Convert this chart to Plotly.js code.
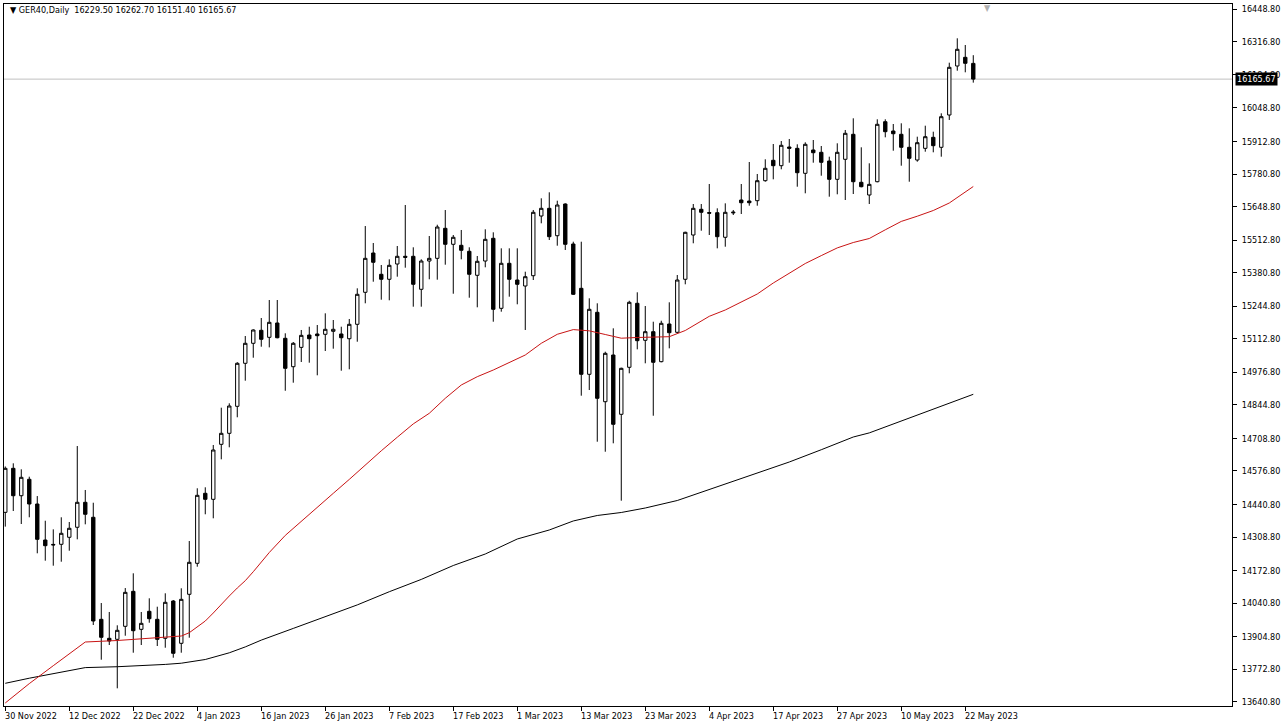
<!DOCTYPE html>
<html>
<head>
<meta charset="utf-8">
<script src="https://cdn.plot.ly/plotly-3.0.1.min.js"></script>
<style>
html,body{margin:0;padding:0;background:#ffffff;}
#chart{width:1287px;height:728px;}
</style>
</head>
<body>
<div id="chart"></div>
<script>
// ---- data (bar index 0 = 30 Nov 2022) ----
const symbol = "GER40,Daily";

const openP = [14409,14587.5,14476.4,14543,14442.8,14296.8,14279,14279.4,14307.8,14348.4,
14449.7,14388.9,13975.2,13898.2,13894.1,13946.8,14088.7,13934.6,14007.7,13975.2,
13898.2,14049.4,13877.9,14076.6,14202.3,14486.2,14461.8,14684.8,14729.4,14838.9,
15013.3,15094.4,15147.1,15118.7,15176.8,15114.7,14999.5,15078,15128,15132.2,
15130.9,15143.1,15132.2,15113,15171.5,15301.2,15460.6,15374.2,15354,15416,
15447.2,15447.2,15313.4,15428.1,15439,15560.7,15495.9,15491.8,15467.5,15370.2,
15428.1,15520.2,15236.3,15418.8,15351.1,15326.8,15368.5,15610.6,15641.8,15530.7,
15659.3,15497.1,15317.4,14968.7,15220.1,14857.6,15047,14806.5,14997.1,15256.6,
15106.6,15141.5,15019.9,15172.7,15139,15354,15533.6,15637.8,15624.5,15624,
15524.3,15623,15675.5,15671.4,15672.7,15753.8,15836.5,15814.6,15890.4,15885,
15783.7,15878.3,15868.9,15833.6,15759.4,15840.5,15941.9,15747.3,15695.8,15749.7,
15993,15955.3,15941.9,15889.2,15837.7,15885,15929.7,15889.2,16020.2,16218.9,
16254.1,16229.50];

const highP = [14595,14607.8,14583.5,14553.5,14475,14375,14340,14388.9,14369.8,14677.9,
14499.6,14448,14041.3,14004.9,13950.9,14102,14161.8,14004.9,14060.4,14026.3,
14080.7,14053.5,14101,14292.7,14506.5,14510.5,14682.1,14833.3,14851.1,15018,
15124,15151.2,15197,15270,15270,15135,15099.7,15148.4,15161.7,15168.6,
15216,15188.9,15161.7,15193,15317.4,15570,15501.1,15412,15435,15489,
15655.2,15483.7,15435,15529.5,15575.3,15634.9,15533.6,15553.9,15483.7,15448.4,
15556.7,15544.5,15479.6,15479.6,15479.6,15384.8,15635,15682.4,15706.7,15672.7,
15662,15506.4,15506.4,15276.9,15256.6,15060.4,15155.2,14995.5,15267,15301.2,
15245.7,15182,15186,15260.7,15371.4,15546.9,15659.3,15659.3,15740.4,15641.8,
15662,15635,15740.4,15829.6,15781,15840.5,15902.6,15914.7,15922.9,15901.4,
15909.5,15918.8,15894.5,15851.1,15905.4,15959.4,16006.8,15889.2,15824.3,16002.7,
16002.7,15983.7,15986.5,15966.2,15932.2,15976.8,15952.5,16027,16232.3,16331.2,
16304,16262.70];

const lowP = [14351,14414.4,14361.7,14388.9,14242.9,14212.9,14192.6,14208.8,14253.4,14299.6,
14360.4,13952.2,13811.4,13871,13695.4,13908.7,13839.8,13871,13961.4,13867,
13860,13819.5,13839.8,13900.6,14188.5,14401.1,14384.8,14624,14672.7,14794.4,
14942.8,15036,15080.6,15078,15114.7,14902,14934.7,15018.6,15015.8,14964.7,
15063.2,15072.6,14983.3,14989,15100.9,15256.6,15344.2,15271.2,15268.8,15364.5,
15401,15242.9,15242.9,15354,15352.4,15413.2,15295.5,15435,15279.3,15240.4,
15402.6,15182,15222.6,15283.4,15252.6,15148.4,15351.1,15581,15513.3,15490.2,
15472.8,15290.3,14882,14905,14695.4,14654.8,14688.9,14456.2,14972.8,15070,
15013.3,14800.8,15017.4,15074,15135,15333.7,15500,15551,15533.6,15479.6,
15486.1,15614.7,15618.7,15652.4,15652.4,15749.7,15759.4,15800,15826.8,15729.4,
15702.7,15826.8,15774,15688.9,15698.6,15675.5,15699.8,15727,15659.3,15747.3,
15929.7,15875.4,15814.6,15749.7,15830.8,15871.4,15868.9,15851.1,16000,16199.8,
16193.3,16151.40];

const closeP = [14587.5,14476.4,14551,14442.8,14299.6,14273.7,14277,14324,14344.3,14449.7,
14401.1,13968.4,13902.2,13887.3,13930.6,14084.6,13929,13958.9,13977.7,13894.1,
14044.2,13837.4,14056.2,14206.4,14478,14461.8,14661.8,14729.4,14840.2,15013.3,
15094.4,15148.4,15110.6,15179.5,15117,14993,15094.4,15126.7,15113,15125.3,
15151.2,15151.2,15117,15171.5,15293.1,15439,15422.9,15354,15410.7,15447.2,
15443.1,15333.7,15428.1,15439,15566,15495.9,15524.3,15471.5,15374.2,15426.9,
15516.1,15232.3,15418.8,15354,15333.7,15364.5,15625.6,15641.8,15526.7,15655.2,
15495.9,15293.1,14968.7,15232.3,14871.4,15053.8,14766,14993,15260.7,15105,
15141.5,15017.4,15175.5,15137.4,15351.1,15544.5,15641.8,15625.6,15622,15526.7,
15625.6,15626,15664.5,15664.5,15753.8,15804,15814.6,15897.3,15885,15786.2,
15901.4,15867.3,15828.3,15759.4,15868.9,15946,15749.7,15729.4,15739,15982.5,
15952.5,15944.3,15889.2,15844.6,15907.9,15932.2,15895.7,16013.3,16213.6,16286.6,
16229.8,16165.67];

// moving averages, read at selected bar indexes
const maRedIdx = [0,3,6,10,14,19,22,23,24,25,26,27,28,29,30,31,33,35,37,39,41,43,45,47,49,51,53,55,57,59,61,63,65,67,69,71,73,75,77,79,81,83,85,87,88,90,92,94,96,98,100,102,104,106,108,110,112,114,116,118,119,120,121];
const maRedVal = [13636,13714.5,13787.1,13883.2,13889.3,13901.4,13907.5,13920.9,13944,13968.3,14000.8,14037.3,14069.7,14102.2,14131.8,14168.2,14246.1,14315.5,14373.5,14431,14486.1,14542.5,14600.9,14658.5,14713.6,14767.6,14810.6,14871.4,14925.3,14959,14986.1,15017,15047,15094.4,15130.9,15150,15145,15130.1,15115.1,15118,15119.2,15121.2,15146.3,15184.8,15203.9,15229.5,15260.7,15294.3,15338.9,15379.9,15418,15450,15481.3,15503.2,15519.4,15554.7,15588.7,15609.8,15632.9,15663.3,15685.6,15707.9,15730.2];

const maBlackIdx = [0,3,10,14,20,22,25,28,30,32,36,40,44,48,52,56,60,64,68,71,74,77,80,84,88,90,94,98,102,106,108,112,116,121];
const maBlackVal = [13715.7,13736.4,13779.4,13783,13792.3,13797.2,13812.2,13839.4,13863.3,13890.9,13938.3,13985.8,14033.6,14087.1,14137,14193.4,14240,14300.9,14337.4,14374,14396.2,14408.4,14426.6,14457,14500.8,14523.9,14566.4,14613.1,14662.9,14714.5,14731.1,14779.3,14825.9,14887.6];

// x-axis date labels (every 8th bar) and price-scale labels
const tickIdx = [0,8,16,24,32,40,48,56,64,72,80,88,96,104,112,120];
const tickText = ["30 Nov 2022","12 Dec 2022","22 Dec 2022","4 Jan 2023","16 Jan 2023","26 Jan 2023","7 Feb 2023","17 Feb 2023","1 Mar 2023","13 Mar 2023","23 Mar 2023","4 Apr 2023","17 Apr 2023","27 Apr 2023","10 May 2023","22 May 2023"];
const yTickVals = [13640.8,13772.8,13904.8,14040.8,14172.8,14308.8,14440.8,14576.8,14708.8,14844.8,14976.8,15112.8,15244.8,15380.8,15512.8,15648.8,15780.8,15912.8,16048.8,16184.8,16316.8,16448.8];

// ---- build ----
const xIdx = openP.map((_, i) => i);
const last = openP.length - 1;
const FONT = "'DejaVu Sans Condensed', 'Liberation Sans', Arial, sans-serif";
const FS = 9;

const traces = [
  {
    type: 'scatter', mode: 'lines', x: maBlackIdx, y: maBlackVal,
    line: {color: '#000000', width: 1}, hoverinfo: 'skip', showlegend: false
  },
  {
    type: 'scatter', mode: 'lines', x: maRedIdx, y: maRedVal,
    line: {color: '#c81414', width: 1}, hoverinfo: 'skip', showlegend: false
  },
  {
    type: 'candlestick', x: xIdx, open: openP, high: highP, low: lowP, close: closeP,
    increasing: {line: {color: '#000000', width: 1}, fillcolor: '#ffffff'},
    decreasing: {line: {color: '#000000', width: 1}, fillcolor: '#000000'},
    whiskerwidth: 0, showlegend: false, hoverinfo: 'skip'
  }
];

const annotations = tickIdx.map((t, k) => ({
  x: t, xref: 'x', y: 0, yref: 'paper', yanchor: 'top', xanchor: 'left',
  text: tickText[k], showarrow: false, xshift: -2, yshift: -3,
  font: {family: FONT, size: FS, color: '#000000'}
}));

const fmt = v => v.toFixed(2);
annotations.push({
  x: 0, xref: 'paper', y: 1, yref: 'paper', xanchor: 'left', yanchor: 'top',
  xshift: 4, yshift: 1, showarrow: false,
  text: '▼ ' + symbol + '  ' + fmt(openP[last]) + ' ' + fmt(highP[last]) + ' ' + fmt(lowP[last]) + ' ' + fmt(closeP[last]),
  font: {family: FONT, size: FS, color: '#000000'}
});
// current price label on the price scale
annotations.push({
  x: 1, xref: 'paper', y: closeP[last], yref: 'y', xanchor: 'left', yanchor: 'middle',
  xshift: 3, showarrow: false, text: fmt(closeP[last]),
  bgcolor: '#000000', borderpad: 1,
  font: {family: FONT, size: FS, color: '#ffffff'}
});
// chart shift marker
annotations.push({
  x: last + 1.75, xref: 'x', y: 1, yref: 'paper', xanchor: 'center', yanchor: 'top',
  yshift: 3, showarrow: false, text: '▼',
  font: {family: FONT, size: 9, color: '#b0b0b0'}
});

const layout = {
  width: 1287, height: 728,
  margin: {l: 4, r: 55, t: 4, b: 22, pad: 0},
  paper_bgcolor: '#ffffff', plot_bgcolor: '#ffffff',
  showlegend: false,
  boxgap: 0.4,
  hovermode: false,
  xaxis: {
    range: [-0.16, 153.34], showgrid: false, zeroline: false,
    rangeslider: {visible: false},
    tickmode: 'array', tickvals: tickIdx, ticktext: tickIdx.map(() => ''),
    ticks: 'outside', ticklen: 4, tickcolor: '#000000', tickwidth: 1,
    showline: true, linecolor: '#000000', linewidth: 1, mirror: true
  },
  yaxis: {
    side: 'right', range: [13623.7, 16470.3], showgrid: false, zeroline: false,
    tickmode: 'array', tickvals: yTickVals, ticktext: yTickVals.map(fmt),
    ticks: 'outside', ticklen: 4, tickcolor: '#000000', tickwidth: 1,
    ticklabelstandoff: 3,
    showline: true, linecolor: '#000000', linewidth: 1, mirror: true,
    tickfont: {family: FONT, size: FS, color: '#000000'}
  },
  shapes: [
    {type: 'line', xref: 'paper', x0: 0, x1: 1, yref: 'y', y0: closeP[last], y1: closeP[last],
     line: {color: '#c0c0c0', width: 1}, layer: 'below'}
  ],
  annotations: annotations
};

Plotly.newPlot('chart', traces, layout, {displayModeBar: false, staticPlot: true});
</script>
</body>
</html>
